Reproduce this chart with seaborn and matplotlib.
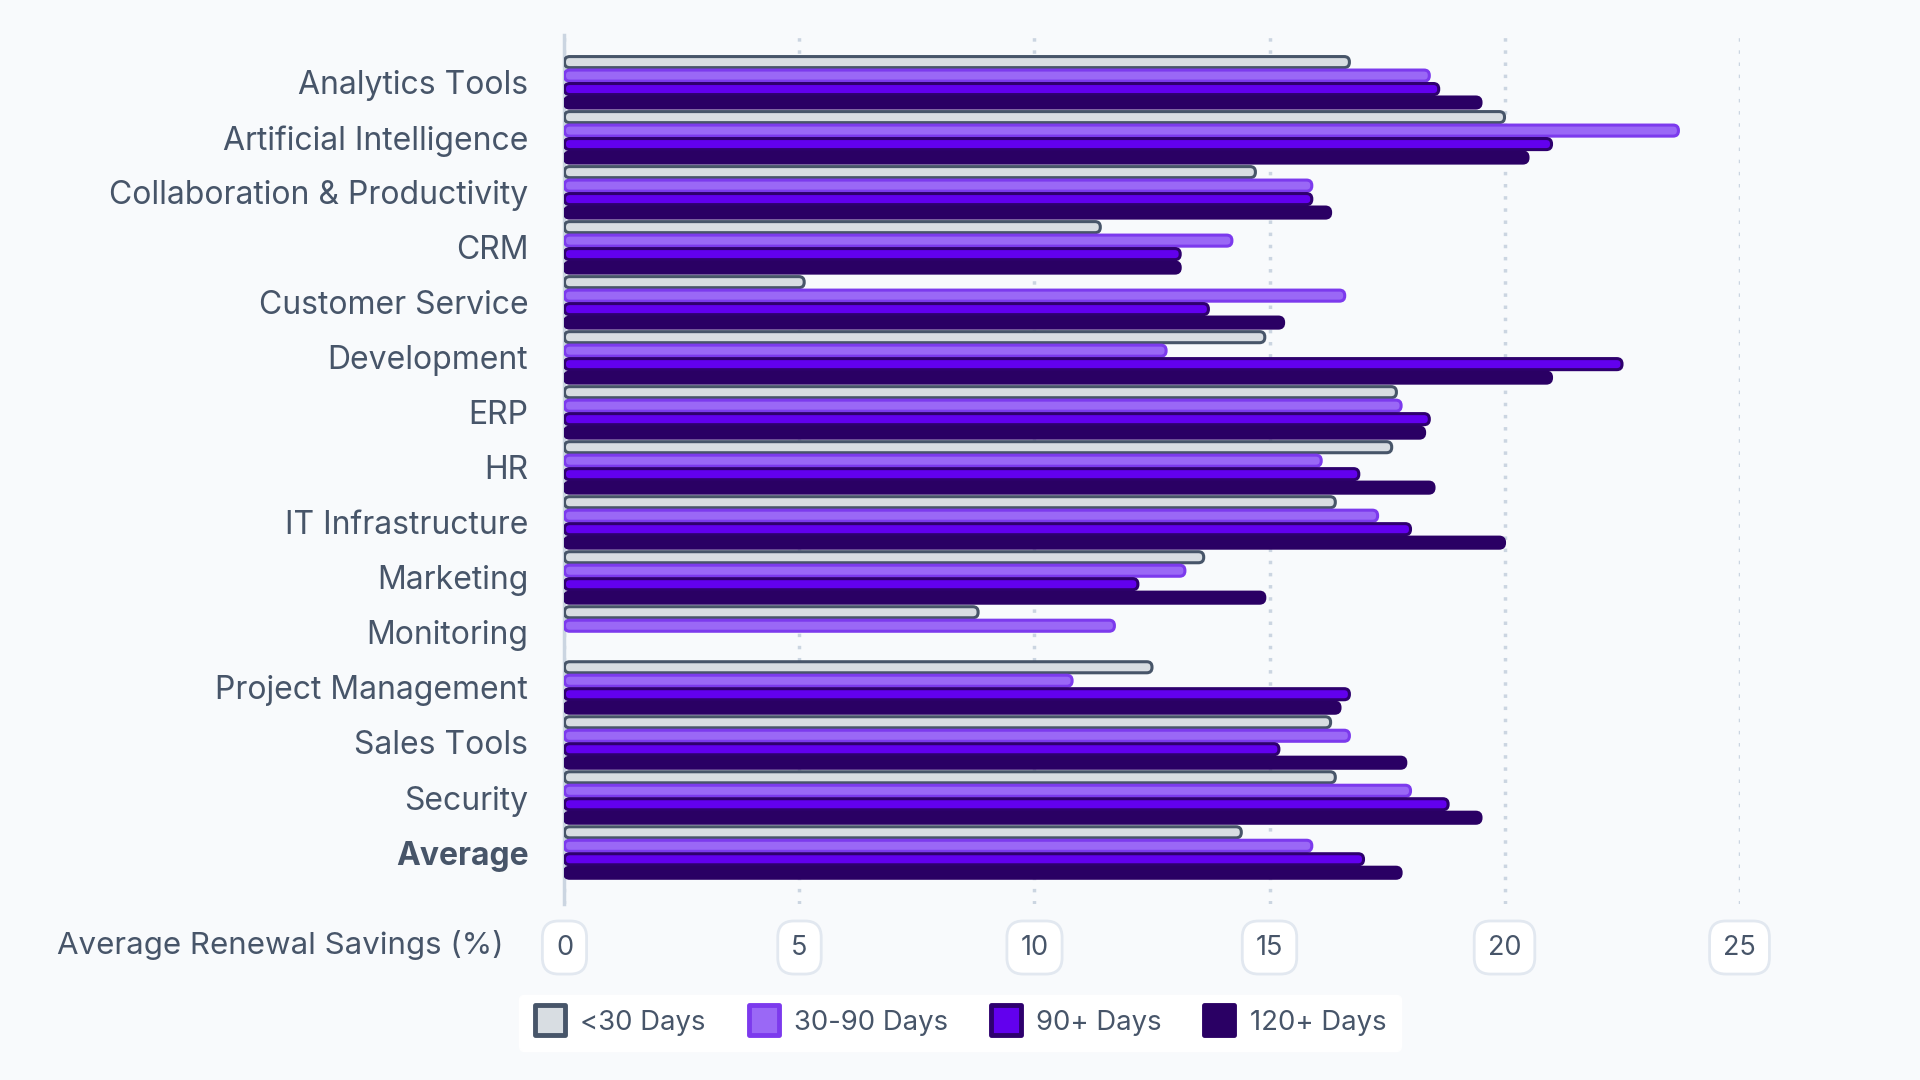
import seaborn as sns
import matplotlib.pyplot as plt
import pandas as pd
import numpy as np
from matplotlib.patches import FancyBboxPatch
from matplotlib.lines import Line2D
from matplotlib.markers import MarkerStyle

categories = ["Analytics Tools", "Artificial Intelligence", "Collaboration & Productivity",
              "CRM", "Customer Service", "Development", "ERP", "HR", "IT Infrastructure",
              "Marketing", "Monitoring", "Project Management", "Sales Tools", "Security",
              "Average"]
series = ["<30 Days", "30-90 Days", "90+ Days", "120+ Days"]

under_30 = [16.7, 20.0, 14.7, 11.4, 5.1, 14.9, 17.7, 17.6, 16.4, 13.6, 8.8, 12.5, 16.3, 16.4, 14.4]
d30_90 = [18.4, 23.7, 15.9, 14.2, 16.6, 12.8, 17.8, 16.1, 17.3, 13.2, 11.7, 10.8, 16.7, 18.0, 15.9]
d90_plus = [18.6, 21.0, 15.9, 13.1, 13.7, 22.5, 18.4, 16.9, 18.0, 12.2, np.nan, 16.7, 15.2, 18.8, 17.0]
d120_plus = [19.5, 20.5, 16.3, 13.1, 15.3, 21.0, 18.3, 18.5, 20.0, 14.9, np.nan, 16.5, 17.9, 19.5, 17.8]

fills = ["#d8dde2", "#9a68f6", "#6200ee", "#2a0064"]
edges = ["#475569", "#7c3aed", "#2e006e", "#2a0064"]
text_col = "#475569"
grid_col = "#cbd5e1"
bg = "#f8fafc"

df = pd.DataFrame({
    "category": categories * 4,
    "series": np.repeat(series, len(categories)),
    "value": under_30 + d30_90 + d90_plus + d120_plus,
})

sns.set_theme(style="white")
plt.rcParams['font.family'] = ['Inter', 'DejaVu Sans']

fig = plt.figure(figsize=(19.2, 10.8), dpi=100, facecolor=bg)
ax = fig.add_axes([0.294, 0.163, 0.906 - 0.294, 0.968 - 0.163])
ax.set_facecolor(bg)

sns.barplot(data=df, y="category", x="value", hue="series", hue_order=series,
            order=categories, palette=fills, orient="h", width=0.98, gap=0.18,
            legend=False, ax=ax)

ax.set_xlim(0, 25)
ax.set_ylim(14.935, -0.868)

# swap plain rectangles for rounded bars
fig.canvas.draw()
p0 = ax.transData.transform((0, 0))
p1 = ax.transData.transform((1, 1))
aspect = abs(p1[0] - p0[0]) / abs(p1[1] - p0[1])
for cont, fc, ec in zip(ax.containers, fills, edges):
    for bar in cont:
        w = bar.get_width()
        if not np.isfinite(w) or w <= 0:
            bar.remove()
            continue
        x, y, h = bar.get_x(), bar.get_y(), bar.get_height()
        r = abs(h) / 2 / aspect * 0.95
        box = FancyBboxPatch((x, y), w, h,
                             boxstyle=f"round,pad=0,rounding_size={r}",
                             mutation_aspect=aspect, facecolor=fc,
                             edgecolor=ec, linewidth=2.2, zorder=3)
        ax.add_patch(box)
        bar.remove()

# grid + axis line
ax.set_xticks([0, 5, 10, 15, 20, 25])
ax.grid(axis="x", linestyle=(0, (1, 2.5)), color=grid_col, linewidth=2.5, zorder=0)
ax.grid(axis="y", visible=False)
for s in ["top", "right", "bottom"]:
    ax.spines[s].set_visible(False)
ax.spines["left"].set_color(grid_col)
ax.spines["left"].set_linewidth(2.5)
ax.spines["left"].set_zorder(1)

ax.tick_params(axis="y", length=0, pad=26, labelsize=23, labelcolor=text_col)
ax.tick_params(axis="x", length=0, pad=22, labelsize=19.5, labelcolor=text_col)
for lab in ax.get_xticklabels():
    lab.set_bbox(dict(boxstyle="round,pad=0.5,rounding_size=0.6", fc="white",
                      ec="#e2e8f0", lw=2))
for lab in ax.get_yticklabels():
    if lab.get_text() == "Average":
        lab.set_fontweight("bold")
ax.set_xlabel("")
ax.set_ylabel("")

fig.text(0.2625, 0.125, "Average Renewal Savings (%)", ha="right", va="center",
         fontsize=22.5, color=text_col)

handles = [Line2D([], [], linestyle="none",
                  marker=MarkerStyle("s", joinstyle="round"), markersize=22,
                  markerfacecolor=fc, markeredgecolor=ec, markeredgewidth=3.5)
           for fc, ec in zip(fills, edges)]
leg = fig.legend(handles, series, loc="center", bbox_to_anchor=(0.5, 0.053),
                 ncol=4, frameon=True, fancybox=True, framealpha=1,
                 facecolor="white", edgecolor="white", fontsize=19.8,
                 handletextpad=0.5, columnspacing=1.5, borderpad=0.55,
                 handlelength=1.2)
for t in leg.get_texts():
    t.set_color(text_col)

fig.savefig("out.png", dpi=100, facecolor=bg)
